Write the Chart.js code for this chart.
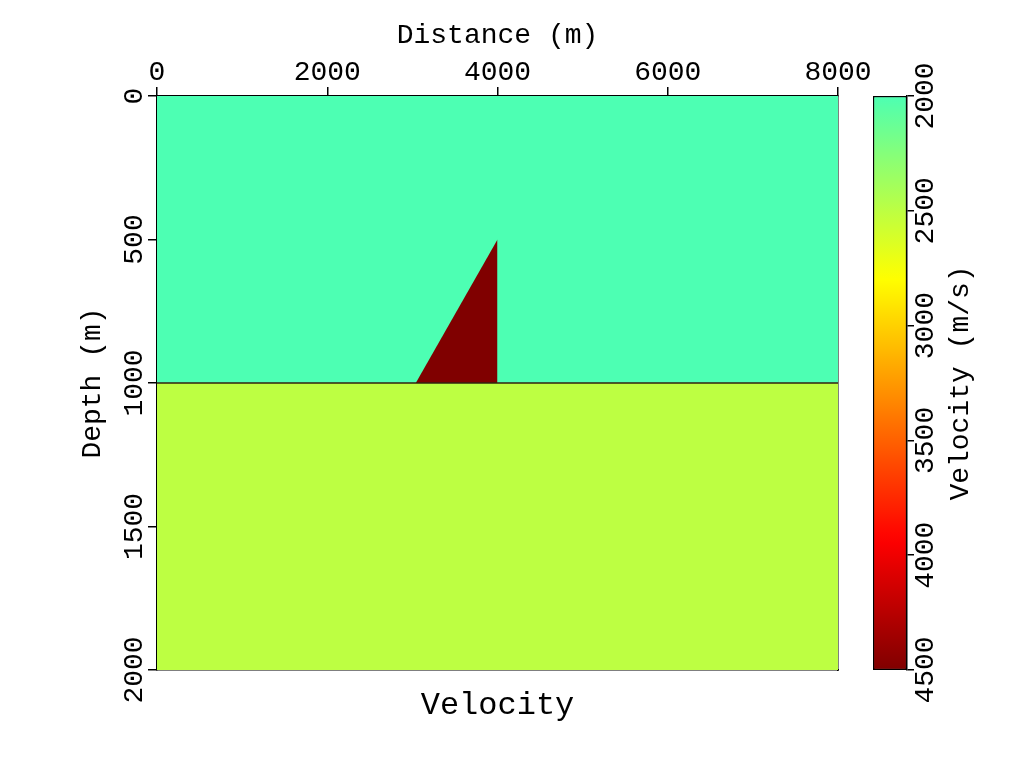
<!DOCTYPE html>
<html>
<head>
<meta charset="utf-8">
<script src="https://cdn.jsdelivr.net/npm/chart.js@4/dist/chart.umd.min.js"></script>
<style>
  html, body { margin: 0; padding: 0; background: #fff; }
  #wrap { position: relative; width: 1024px; height: 768px; overflow: hidden; }
  #model { position: absolute; left: 0; top: 0; }
  #bar { position: absolute; left: 850px; top: 0; }
</style>
</head>
<body>
<div id="wrap">
  <canvas id="model" width="1024" height="768"></canvas>
  <canvas id="bar" width="174" height="768"></canvas>
</div>
<script>
// Модель: два слоя и клин
const distanceRange = [0, 8000];        // м
const depthRange = [0, 2000];           // м
const interfaceDepth = 1000;            // граница слоёв
const upperVelocity = 2000;             // м/с
const lowerVelocity = 2500;
const wedgeVelocity = 4500;
const wedgeX = [3040, 4000, 4000];      // клин
const wedgeDepth = [1000, 500, 1000];

// Шкала цвета
const velocityRange = [2000, 4500];
const distanceTicks = [0, 2000, 4000, 6000, 8000];
const depthTicks = [0, 500, 1000, 1500, 2000];
const velocityTicks = [2000, 2500, 3000, 3500, 4000, 4500];

const FONT = '"Liberation Mono", "DejaVu Sans Mono", monospace';

// jet, верхняя часть палитры
function velColor(v) {
    const t = 0.45 + 0.55 * (v - velocityRange[0]) / (velocityRange[1] - velocityRange[0]);
    const c = x => Math.round(255 * Math.max(0, Math.min(1, x)));
    const r = c(1.5 - Math.abs(4 * t - 3));
    const g = c(1.5 - Math.abs(4 * t - 2));
    const b = c(1.5 - Math.abs(4 * t - 1));
    return 'rgb(' + r + ',' + g + ',' + b + ')';
}

// ширина подписи "2000" для центровки повернутых меток
const mctx = document.createElement('canvas').getContext('2d');
mctx.font = '28px ' + FONT;
const labelWidth = mctx.measureText('2000').width;

function line(xs, ys) {
    return xs.map((x, i) => ({ x: x, y: ys[i] }));
}
const plain = v => String(v);   // без разделителя тысяч

const tickGrid = { drawOnChartArea: false, drawTicks: true, tickLength: 9, color: '#000', lineWidth: 1.5 };
const axisBorder = { display: true, color: '#000', width: 1.5 };

const modelChart = new Chart(document.getElementById('model'), {
    type: 'scatter',
    data: {
        datasets: [
            {   // нижний слой
                data: line(distanceRange, [depthRange[1], depthRange[1]]),
                fill: { value: interfaceDepth },
                backgroundColor: velColor(lowerVelocity),
                borderWidth: 0, pointRadius: 0, showLine: true, order: 4
            },
            {   // верхний слой
                data: line(distanceRange, [interfaceDepth, interfaceDepth]),
                fill: { value: depthRange[0] },
                backgroundColor: velColor(upperVelocity),
                borderWidth: 0, pointRadius: 0, showLine: true, order: 3
            },
            {   // клин
                data: line(wedgeX, wedgeDepth),
                fill: { value: interfaceDepth },
                backgroundColor: velColor(wedgeVelocity),
                borderWidth: 0, pointRadius: 0, showLine: true, order: 2
            },
            {   // граница
                data: line(distanceRange, [interfaceDepth, interfaceDepth]),
                fill: false,
                borderColor: '#332211', borderWidth: 1.5,
                pointRadius: 0, showLine: true, order: 1
            }
        ]
    },
    options: {
        responsive: false,
        animation: false,
        layout: { padding: { left: 0, right: 186, top: 0, bottom: 0 } },
        plugins: { legend: { display: false }, tooltip: { enabled: false } },
        scales: {
            x: {
                type: 'linear', position: 'top',
                min: distanceRange[0], max: distanceRange[1],
                afterBuildTicks: s => { s.ticks = distanceTicks.map(v => ({ value: v })); },
                ticks: { color: '#000', font: { family: FONT, size: 28 }, padding: -2,
                         maxRotation: 0, callback: plain },
                grid: tickGrid, border: axisBorder,
                title: { display: true, text: 'Distance (m)', color: '#000',
                         font: { family: FONT, size: 28 }, padding: { top: 19, bottom: 0 } },
                afterFit: s => { s.height = 96; }
            },
            x2: {
                type: 'linear', position: 'bottom',
                min: distanceRange[0], max: distanceRange[1],
                ticks: { display: false }, grid: { display: false }, border: axisBorder,
                title: { display: true, text: 'Velocity', color: '#000',
                         font: { family: FONT, size: 32 }, padding: { top: 0, bottom: 43 } },
                afterFit: s => { s.height = 98; }
            },
            y: {
                type: 'linear', position: 'left', reverse: true,
                min: depthRange[0], max: depthRange[1],
                afterBuildTicks: s => { s.ticks = depthTicks.map(v => ({ value: v })); },
                ticks: { color: '#000', font: { family: FONT, size: 28 },
                         minRotation: 90, maxRotation: 90, crossAlign: 'center',
                         padding: 13.5 - labelWidth / 2, autoSkip: false, callback: plain },
                grid: tickGrid, border: axisBorder,
                title: { display: true, text: 'Depth (m)', color: '#000',
                         font: { family: FONT, size: 28 }, padding: { top: 76, bottom: 0 } },
                afterFit: s => { s.width = 157; }
            },
            y2: {
                type: 'linear', position: 'right', reverse: true,
                min: depthRange[0], max: depthRange[1],
                ticks: { display: false }, grid: { display: false }, border: axisBorder,
                afterFit: s => { s.width = 0; }
            }
        }
    }
});

// подпись шкалы цвета (повернута как у оси глубины)
const barTitle = {
    id: 'barTitle',
    afterDraw(chart) {
        const a = chart.chartArea;
        const ctx = chart.ctx;
        ctx.save();
        ctx.translate(111, (a.top + a.bottom) / 2);
        ctx.rotate(-Math.PI / 2);
        ctx.font = '28px ' + FONT;
        ctx.fillStyle = '#000';
        ctx.textAlign = 'center';
        ctx.textBaseline = 'middle';
        ctx.fillText('Velocity (m/s)', 0, 0);
        ctx.restore();
    }
};

const barChart = new Chart(document.getElementById('bar'), {
    type: 'bar',
    data: {
        labels: [''],
        datasets: [{
            data: [velocityRange],
            barPercentage: 1, categoryPercentage: 1,
            borderColor: '#000', borderWidth: 1.5, borderSkipped: false,
            backgroundColor: function (c) {
                const chart = c.chart;
                if (!chart.chartArea) return velColor(velocityRange[0]);
                const ys = chart.scales.y;
                const y0 = ys.getPixelForValue(velocityRange[0]);
                const y1 = ys.getPixelForValue(velocityRange[1]);
                const g = chart.ctx.createLinearGradient(0, y0, 0, y1);
                for (let i = 0; i <= 50; i++) {
                    const v = velocityRange[0] + (velocityRange[1] - velocityRange[0]) * i / 50;
                    g.addColorStop(i / 50, velColor(v));
                }
                return g;
            }
        }]
    },
    options: {
        responsive: false,
        animation: false,
        layout: { padding: { left: 23, right: 0, top: 96, bottom: 98 } },
        plugins: { legend: { display: false }, tooltip: { enabled: false } },
        scales: {
            x: { display: false },
            y: {
                type: 'linear', position: 'right', reverse: true,
                min: velocityRange[0], max: velocityRange[1],
                afterBuildTicks: s => { s.ticks = velocityTicks.map(v => ({ value: v })); },
                ticks: { color: '#000', font: { family: FONT, size: 28 },
                         minRotation: 90, maxRotation: 90, crossAlign: 'center',
                         padding: 12 - labelWidth / 2, autoSkip: false, callback: plain },
                grid: { drawOnChartArea: false, drawTicks: true, tickLength: 7, color: '#000', lineWidth: 1.5 },
                border: axisBorder,
                afterFit: s => { s.width = 117; }
            }
        }
    },
    plugins: [barTitle]
});
</script>
</body>
</html>
